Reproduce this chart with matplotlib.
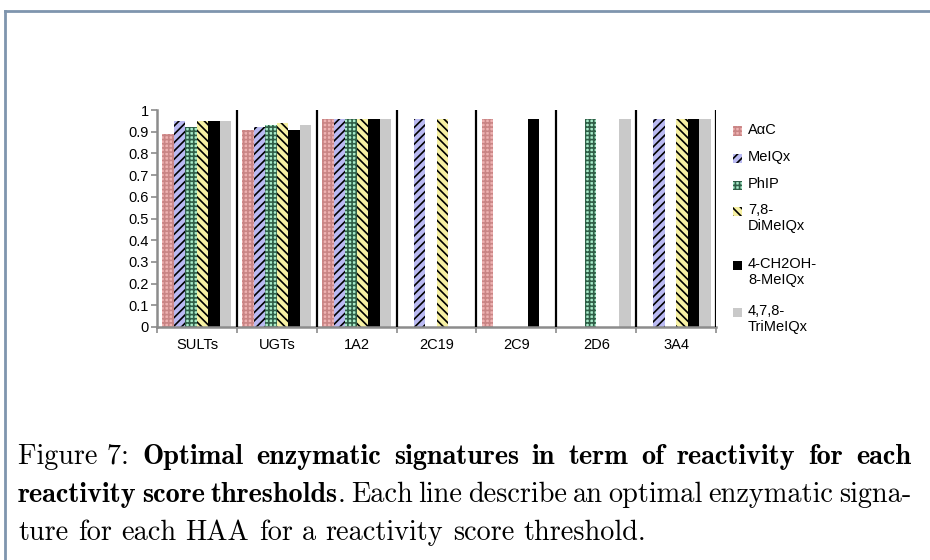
import matplotlib.pyplot as plt
import numpy as np
from matplotlib.patches import Rectangle
from matplotlib.lines import Line2D

# --------- Datos ---------

enzymes = ['SULTs', 'UGTs', '1A2', '2C19', '2C9', '2D6', '3A4']
amines = ['AαC', 'MeIQx', 'PhIP', '7,8-\nDiMeIQx', '4-CH2OH-\n8-MeIQx', '4,7,8-\nTriMeIQx']

aac      = [0.89, 0.91, 0.96, 0.00, 0.96, 0.00, 0.00]
meiqx    = [0.95, 0.92, 0.96, 0.96, 0.00, 0.00, 0.96]
phip     = [0.92, 0.93, 0.96, 0.00, 0.00, 0.96, 0.00]
dimeiqx  = [0.95, 0.94, 0.96, 0.96, 0.00, 0.00, 0.96]
ch2oh    = [0.95, 0.91, 0.96, 0.00, 0.96, 0.00, 0.96]
trimeiqx = [0.95, 0.93, 0.96, 0.00, 0.00, 0.96, 0.96]
series = [aac, meiqx, phip, dimeiqx, ch2oh, trimeiqx]

yticks = [0, 0.1, 0.2, 0.3, 0.4, 0.5, 0.6, 0.7, 0.8, 0.9, 1]
ytick_labels = ['0', '0.1', '0.2', '0.3', '0.4', '0.5', '0.6', '0.7', '0.8', '0.9', '1']

# (texto, negrita, espacio antes)
caption = [
    [('Figure 7:', False, False), ('Optimal', True, True), ('enzymatic', True, True),
     ('signatures', True, True), ('in', True, True), ('term', True, True), ('of', True, True),
     ('reactivity', True, True), ('for', True, True), ('each', True, True)],
    [('reactivity', True, False), ('score', True, True), ('thresholds', True, True), ('.', False, False),
     ('Each', False, True), ('line', False, True), ('describe', False, True), ('an', False, True),
     ('optimal', False, True), ('enzymatic', False, True), ('signa-', False, True)],
    [('ture', False, False), ('for', False, True), ('each', False, True), ('HAA', False, True),
     ('for', False, True), ('a', False, True), ('reactivity', False, True), ('score', False, True),
     ('threshold.', False, True)],
]

# --------- Estilos ---------

faces = ['#efb3b3', '#b9b9f2', '#a8ecca', '#f7f1a3', 'black', '#c9c9c9']
hatch_cols = ['#c98585', 'black', '#2f5f47', 'black', 'black', '#c9c9c9']
hatches = ['++++', '////', '++++', '\\\\\\\\', '', '']

plt.rcParams['font.family'] = ['Liberation Sans', 'DejaVu Sans']
plt.rcParams['hatch.linewidth'] = 1.2

W, H = 930, 560
fig = plt.figure(figsize=(9.3, 5.6), dpi=100)
ax = fig.add_axes([157 / W, 1 - 327 / H, (716 - 157) / W, (327 - 110) / H])

x = np.arange(len(enzymes))
bw = 0.144
for i, vals in enumerate(series):
    ax.bar(x + (i - 2.5) * bw, vals, bw, color=faces[i], edgecolor=hatch_cols[i],
           hatch=hatches[i], linewidth=0)

# separadores entre grupos
for b in np.arange(0.5, len(enzymes), 1.0):
    ax.axvline(b, color='black', lw=1.6, zorder=3)

ax.set_xlim(-0.5, len(enzymes) - 0.5)
ax.set_ylim(0, 1)
ax.set_yticks(yticks)
ax.set_yticklabels(ytick_labels)
ax.set_xticks(x)
ax.set_xticklabels(enzymes)
ax.set_xticks(np.arange(-0.5, len(enzymes), 1.0), minor=True)
ax.tick_params(axis='x', which='major', length=0, pad=8, labelsize=10.5)
ax.tick_params(axis='x', which='minor', length=4, color='#8c8c8c', width=1.2)
ax.tick_params(axis='y', length=4, color='#8c8c8c', width=1.2, pad=2, labelsize=10.5)
for s in ['top', 'right']:
    ax.spines[s].set_visible(False)
for s in ['left', 'bottom']:
    ax.spines[s].set_color('#8c8c8c')
    ax.spines[s].set_linewidth(1.8)

# leyenda hecha a mano: el cuadro alineado con la primera linea
first_lines = [131, 158, 185, 211, 265, 312]
for i, lab in enumerate(amines):
    yc = first_lines[i]
    fig.add_artist(Rectangle((733 / W, 1 - (yc + 4.5) / H), 9 / W, 9 / H, transform=fig.transFigure,
                             facecolor=faces[i], edgecolor=hatch_cols[i], hatch=hatches[i], linewidth=0))
    fig.text(748 / W, 1 - (yc - 8) / H, lab, fontsize=10.5, va='top', ha='left', linespacing=1.15)

# marco de la figura
frame_col = '#7f95ae'
fig.add_artist(Line2D([5 / W, 5 / W], [0, 1 - 11 / H], color=frame_col, lw=2))
fig.add_artist(Line2D([5 / W, 1], [1 - 11 / H, 1 - 11 / H], color=frame_col, lw=2))

# leyenda de la figura, justificada
left, right = 18, 911
last_end = 645
line_y = [457, 495, 533]
renderer = fig.canvas.get_renderer()


def word_widths(words, size):
    arts, widths = [], []
    for w in words:
        t = fig.text(0, 0, w[0], fontsize=size, va='center', ha='left',
                     family='cmb10' if w[1] else 'cmr10')
        arts.append(t)
        widths.append(t.get_window_extent(renderer).width)
    return arts, widths


# tamaño de letra a partir de la ultima linea (sin justificar)
base = 10.0
arts, widths = word_widths(caption[-1], base)
for t in arts:
    t.remove()
n_sp = sum(1 for w in caption[-1] if w[2])
sp_nat = 0.333 * base * 100 / 72
cap_size = base * (last_end - left) / (sum(widths) + n_sp * sp_nat)

for li, words in enumerate(caption):
    arts, widths = word_widths(words, cap_size)
    n_gaps = sum(1 for w in words if w[2])
    if li < len(caption) - 1:
        gap = (right - left - sum(widths)) / n_gaps
    else:
        gap = 0.333 * cap_size * 100 / 72
    xpos = left
    for w, t, wd in zip(words, arts, widths):
        if w[2]:
            xpos += gap
        t.set_position((xpos / W, 1 - line_y[li] / H))
        xpos += wd

fig.savefig('out.png', dpi=100)
